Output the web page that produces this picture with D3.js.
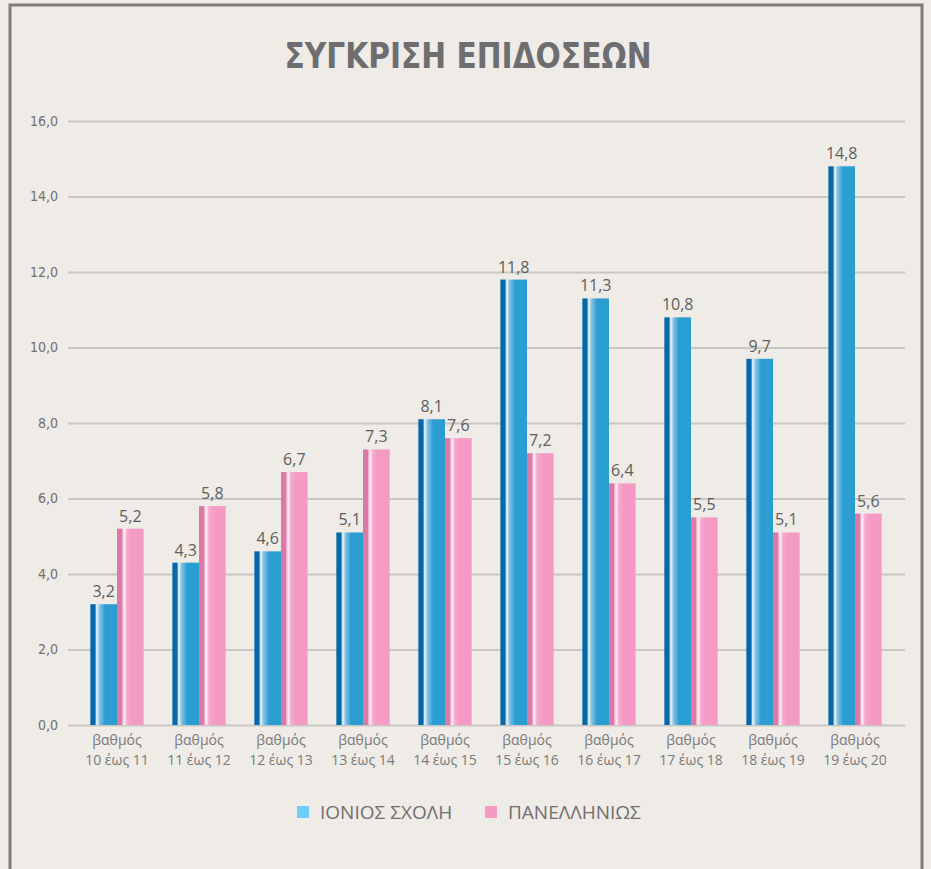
<!DOCTYPE html>
<html>
<head>
<meta charset="utf-8">
<script src="https://cdn.jsdelivr.net/npm/d3@7"></script>
<style>
	html, body { margin: 0; padding: 0; background: #efebe6; }
	svg { display: block; }
</style>
</head>
<body>
<svg id="chart"></svg>
<script>
	"use strict";

	// data
	var categories = ["10 έως 11", "11 έως 12", "12 έως 13", "13 έως 14", "14 έως 15",
		"15 έως 16", "16 έως 17", "17 έως 18", "18 έως 19", "19 έως 20"];
	var ionios = [3.2, 4.3, 4.6, 5.1, 8.1, 11.8, 11.3, 10.8, 9.7, 14.8];
	var panellinios = [5.2, 5.8, 6.7, 7.3, 7.6, 7.2, 6.4, 5.5, 5.1, 5.6];
	var series_names = ["ΙΟΝΙΟΣ ΣΧΟΛΗ", "ΠΑΝΕΛΛΗΝΙΩΣ"];
	var y_ticks = [0, 2, 4, 6, 8, 10, 12, 14, 16];

	var width = 931, height = 869;
	var text_color = "#6f6f6f";
	var grid_color = "#c9c7c4";

	var svg = d3.select("#chart").attr("width", width).attr("height", height);

	// frame
	svg.append("rect").attr("x", 0).attr("y", 0).attr("width", width).attr("height", height)
		.attr("fill", "#efebe6");
	svg.append("path")
		.attr("d", "M10," + (height + 5) + "V5H922V" + (height + 5))
		.attr("fill", "none").attr("stroke", "#7d7d7d").attr("stroke-width", 3);

	// gradients for the bars
	var defs = svg.append("defs");
	function make_gradient(id, stops){
		var g = defs.append("linearGradient").attr("id", id)
			.attr("x1", "0%").attr("x2", "100%").attr("y1", "0%").attr("y2", "0%");
		stops.forEach(function(s){
			g.append("stop").attr("offset", s[0]).attr("stop-color", s[1]);
		});
	}
	make_gradient("grad_blue", [["0%", "#0668a8"], ["18%", "#0668a8"], ["20%", "#6db3de"],
		["24%", "#f0f8fd"], ["34%", "#8ac3e6"], ["55%", "#2c9dd2"], ["100%", "#2a9ed1"]]);
	make_gradient("grad_pink", [["0%", "#da7aa6"], ["18%", "#da7aa6"], ["21%", "#f3b6d2"],
		["27%", "#fdeef5"], ["38%", "#f6a9cc"], ["55%", "#f49bc5"], ["100%", "#f49ac4"]]);

	// scales
	var x = d3.scaleBand().domain(categories).range([76, 896]).paddingInner(0.35).paddingOuter(0.175);
	var x_inner = d3.scaleBand().domain([0, 1]).range([0, x.bandwidth()]);
	var y = d3.scaleLinear().domain([0, 16]).range([725, 121]);

	// grid + y axis
	var y_axis = d3.axisLeft(y).tickValues(y_ticks).tickSize(-(905 - 68))
		.tickFormat(function(d){ return d3.format(".1f")(d).replace(".", ","); });
	var gy = svg.append("g").attr("transform", "translate(68,0)").call(y_axis);
	gy.select(".domain").remove();
	gy.selectAll(".tick line").attr("stroke", grid_color).attr("stroke-width", 2);
	gy.selectAll(".tick text").attr("x", -10)
		.attr("fill", text_color)
		.style("font-family", "'Liberation Sans Narrow', 'DejaVu Sans Condensed', sans-serif")
		.style("font-size", "14px");

	// x axis labels
	var gx = svg.append("g").attr("transform", "translate(0,725)")
		.call(d3.axisBottom(x).tickSize(0).tickFormat(""));
	gx.select(".domain").remove();
	gx.selectAll(".tick").each(function(d){
		var t = d3.select(this).append("text")
			.attr("fill", "#7a7a7a").attr("text-anchor", "middle")
			.style("font-family", "'Open Sans', sans-serif").style("font-size", "14px");
		t.append("tspan").attr("x", 0).attr("y", 20).text("βαθμός");
		t.append("tspan").attr("x", 0).attr("y", 40).text(d);
	});

	// bars
	var rows = categories.map(function(c, i){ return {cat: c, vals: [ionios[i], panellinios[i]]}; });
	var group = svg.append("g").selectAll("g.group").data(rows).enter().append("g")
		.attr("class", "group")
		.attr("transform", function(d){ return "translate(" + x(d.cat) + ",0)"; });

	var grad_ids = ["url(#grad_blue)", "url(#grad_pink)"];
	group.selectAll("rect").data(function(d){ return d.vals; }).enter().append("rect")
		.attr("x", function(d, i){ return x_inner(i); })
		.attr("width", x_inner.bandwidth())
		.attr("y", function(d){ return y(d); })
		.attr("height", function(d){ return y(0) - y(d); })
		.attr("fill", function(d, i){ return grad_ids[i]; });

	group.selectAll("text.value").data(function(d){ return d.vals; }).enter().append("text")
		.attr("class", "value")
		.attr("x", function(d, i){ return x_inner(i) + x_inner.bandwidth() / 2; })
		.attr("y", function(d){ return y(d) - 7; })
		.attr("text-anchor", "middle")
		.attr("fill", "#5e5e5e")
		.style("font-family", "'Open Sans', sans-serif").style("font-size", "16px")
		.text(function(d){ return d3.format(".1f")(d).replace(".", ","); });

	// title
	svg.append("text")
		.attr("x", 468).attr("y", 68)
		.attr("text-anchor", "middle")
		.attr("fill", "#6e6e70")
		.style("font-family", "'DejaVu Sans Condensed', 'Liberation Sans Narrow', sans-serif")
		.style("font-weight", "bold").style("font-size", "36px")
		.attr("textLength", 367).attr("lengthAdjust", "spacingAndGlyphs")
		.text("ΣΥΓΚΡΙΣΗ ΕΠΙΔΟΣΕΩΝ");

	// legend
	var legend_colors = ["#6dcff6", "#f49ac4"];
	var legend_x = [297, 485];
	var legend = svg.append("g").selectAll("g").data(series_names).enter().append("g")
		.attr("transform", function(d, i){ return "translate(" + legend_x[i] + ",806)"; });
	legend.append("rect").attr("width", 12).attr("height", 12)
		.attr("fill", function(d, i){ return legend_colors[i]; });
	legend.append("text").attr("x", 23).attr("y", 13)
		.attr("fill", text_color)
		.style("font-family", "'Open Sans', sans-serif").style("font-size", "19px")
		.text(function(d){ return d; });
</script>
</body>
</html>
